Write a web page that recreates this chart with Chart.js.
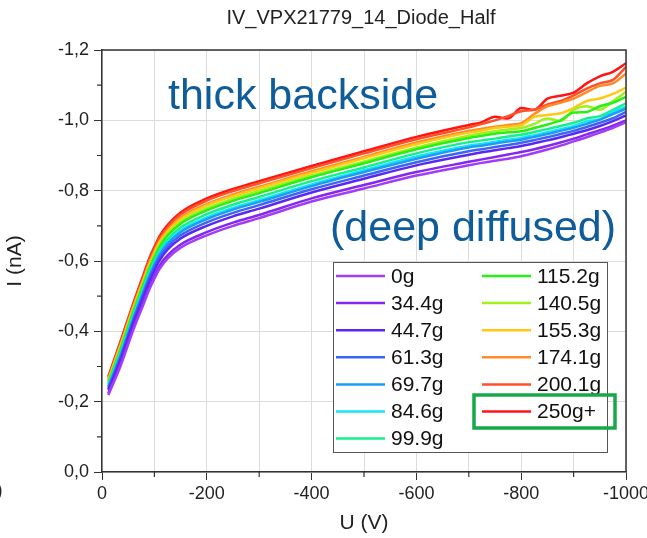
<!DOCTYPE html>
<html>
<head>
<meta charset="utf-8">
<script src="https://cdn.jsdelivr.net/npm/chart.js@4.4.1/dist/chart.umd.min.js"></script>
<style>
  html, body { margin: 0; padding: 0; background: #fff; }
  #wrap { width: 647px; height: 538px; }
</style>
</head>
<body>
<div id="wrap"><canvas id="c" width="647" height="538"></canvas></div>
<script>
// bias voltage (V), shared by every curve
const voltages = [-12, -35, -60, -80, -90, -100, -110, -125, -150, -200, -250, -300, -400, -500, -600,
  -700, -725, -750, -775, -800, -825, -850, -875, -900, -925, -950, -975, -1000];

const labels = ['0g', '34.4g', '44.7g', '61.3g', '69.7g', '84.6g', '99.9g',
  '115.2g', '140.5g', '155.3g', '174.1g', '200.1g', '250g+'];

const colors = ['#a03cfa', '#8228f0', '#5a28f5', '#3c64f5', '#1e9bf5', '#14e6f5', '#14f08c',
  '#28f014', '#a0f01e', '#ffc814', '#ff8c28', '#ff5028', '#ff1414'];

// leakage current (nA)
const i0g   = [-0.219, -0.300, -0.405, -0.480, -0.518, -0.550, -0.578, -0.607, -0.638, -0.673, -0.700, -0.722, -0.769, -0.806, -0.843, -0.872, -0.879, -0.885, -0.891, -0.898, -0.907, -0.917, -0.928, -0.940, -0.952, -0.965, -0.979, -0.995];
const i34   = [-0.224, -0.306, -0.412, -0.488, -0.526, -0.558, -0.587, -0.616, -0.647, -0.682, -0.709, -0.731, -0.778, -0.816, -0.853, -0.882, -0.889, -0.896, -0.903, -0.910, -0.918, -0.927, -0.937, -0.948, -0.960, -0.972, -0.985, -1.000];
const i44   = [-0.233, -0.318, -0.425, -0.502, -0.540, -0.573, -0.602, -0.632, -0.664, -0.700, -0.727, -0.749, -0.795, -0.834, -0.872, -0.902, -0.909, -0.915, -0.921, -0.927, -0.935, -0.943, -0.952, -0.962, -0.972, -0.984, -0.998, -1.014];
const i61   = [-0.237, -0.325, -0.432, -0.510, -0.549, -0.582, -0.610, -0.640, -0.673, -0.710, -0.737, -0.759, -0.804, -0.843, -0.881, -0.912, -0.918, -0.924, -0.930, -0.936, -0.944, -0.952, -0.961, -0.970, -0.981, -0.993, -1.006, -1.024];
const i69   = [-0.242, -0.331, -0.438, -0.517, -0.556, -0.590, -0.619, -0.649, -0.682, -0.719, -0.746, -0.768, -0.813, -0.853, -0.891, -0.923, -0.928, -0.934, -0.940, -0.945, -0.953, -0.961, -0.970, -0.979, -0.990, -1.002, -1.018, -1.033];
const i84   = [-0.244, -0.334, -0.442, -0.522, -0.561, -0.594, -0.624, -0.654, -0.687, -0.724, -0.751, -0.773, -0.818, -0.858, -0.897, -0.928, -0.933, -0.939, -0.945, -0.950, -0.958, -0.966, -0.975, -0.984, -0.997, -1.003, -1.025, -1.038];
const i99   = [-0.249, -0.340, -0.448, -0.528, -0.568, -0.601, -0.631, -0.661, -0.695, -0.733, -0.760, -0.782, -0.827, -0.866, -0.906, -0.938, -0.943, -0.948, -0.954, -0.959, -0.967, -0.975, -0.984, -0.993, -1.005, -1.012, -1.030, -1.048];
const i115  = [-0.254, -0.348, -0.457, -0.538, -0.578, -0.611, -0.641, -0.672, -0.706, -0.744, -0.771, -0.793, -0.838, -0.878, -0.918, -0.950, -0.956, -0.962, -0.966, -0.969, -0.978, -0.988, -1.000, -1.022, -1.024, -1.040, -1.050, -1.067];
const i140  = [-0.257, -0.351, -0.460, -0.542, -0.582, -0.616, -0.646, -0.676, -0.711, -0.750, -0.777, -0.799, -0.843, -0.883, -0.923, -0.956, -0.963, -0.969, -0.974, -0.978, -0.990, -1.005, -0.998, -1.030, -1.040, -1.030, -1.055, -1.081];
const i155  = [-0.261, -0.357, -0.467, -0.549, -0.589, -0.623, -0.653, -0.684, -0.719, -0.758, -0.785, -0.807, -0.851, -0.892, -0.932, -0.965, -0.971, -0.978, -0.982, -0.986, -1.010, -1.015, -1.020, -1.035, -1.055, -1.062, -1.075, -1.093];
const i174  = [-0.263, -0.360, -0.470, -0.552, -0.593, -0.627, -0.657, -0.688, -0.723, -0.762, -0.789, -0.811, -0.855, -0.896, -0.937, -0.970, -0.976, -0.982, -0.987, -0.992, -1.018, -1.040, -1.050, -1.062, -1.080, -1.098, -1.105, -1.133];
const i200  = [-0.268, -0.366, -0.476, -0.560, -0.601, -0.635, -0.665, -0.696, -0.732, -0.772, -0.799, -0.821, -0.864, -0.906, -0.946, -0.980, -0.990, -1.000, -1.012, -1.026, -1.030, -1.045, -1.055, -1.071, -1.090, -1.105, -1.115, -1.152];
const i250  = [-0.271, -0.370, -0.481, -0.565, -0.606, -0.640, -0.671, -0.702, -0.738, -0.778, -0.805, -0.827, -0.870, -0.912, -0.953, -0.987, -0.995, -1.010, -1.005, -1.035, -1.030, -1.062, -1.070, -1.079, -1.105, -1.125, -1.138, -1.162];

const currents = [i0g, i34, i44, i61, i69, i84, i99, i115, i140, i155, i174, i200, i250];

const FONT = '"Liberation Sans", Arial, sans-serif';
const isMajorY = v => Math.abs(Math.round(v * 10)) % 2 === 0;
const isMajorX = v => Math.abs(Math.round(v / 100)) % 2 === 0;

const decorations = {
  id: 'decorations',
  afterDraw(chart) {
    const ctx = chart.ctx;
    const a = chart.chartArea;
    const xs = chart.scales.x, ys = chart.scales.y;
    ctx.save();

    // box frame: top and right
    ctx.strokeStyle = '#333';
    ctx.lineWidth = 1.5;
    ctx.beginPath();
    ctx.moveTo(a.left, a.top);
    ctx.lineTo(a.right, a.top);
    ctx.lineTo(a.right, a.bottom);
    ctx.stroke();

    // short minor ticks
    ctx.lineWidth = 1.2;
    ctx.beginPath();
    ys.ticks.forEach(t => {
      if (isMajorY(t.value)) return;
      const y = ys.getPixelForValue(t.value);
      ctx.moveTo(a.left - 5, y); ctx.lineTo(a.left, y);
    });
    xs.ticks.forEach(t => {
      if (isMajorX(t.value)) return;
      const x = xs.getPixelForValue(t.value);
      ctx.moveTo(x, a.bottom); ctx.lineTo(x, a.bottom + 5);
    });
    ctx.stroke();

    // title
    ctx.fillStyle = '#222';
    ctx.font = '20px ' + FONT;
    ctx.textAlign = 'center';
    ctx.textBaseline = 'alphabetic';
    ctx.fillText('IV_VPX21779_14_Diode_Half', 361, 24);

    // clipped bracket at the left edge of the slide
    ctx.textAlign = 'left';
    ctx.fillText(')', -4, 497);

    // annotations
    ctx.fillStyle = '#0f5c9b';
    ctx.font = '43px ' + FONT;
    ctx.fillText('thick backside', 168, 109);
    ctx.fillText('(deep diffused)', 330, 241);

    // legend box
    const lx = 333, ly = 262, lw = 274, lh = 190;
    ctx.fillStyle = '#fff';
    ctx.fillRect(lx, ly, lw, lh);
    ctx.strokeStyle = '#555';
    ctx.lineWidth = 1;
    ctx.strokeRect(lx + 0.5, ly + 0.5, lw, lh);

    ctx.font = '21px ' + FONT;
    ctx.textBaseline = 'middle';
    chart.data.datasets.forEach((ds, i) => {
      const col = i < 7 ? 0 : 1;
      const row = i < 7 ? i : i - 7;
      const x0 = col === 0 ? 336 : 482;
      const y = 276 + row * 27.1;
      ctx.strokeStyle = ds.borderColor;
      ctx.lineWidth = 2.5;
      ctx.beginPath();
      ctx.moveTo(x0, y); ctx.lineTo(x0 + 49, y);
      ctx.stroke();
      ctx.fillStyle = '#111';
      ctx.fillText(ds.label, x0 + 55, y + 1);
    });

    // highlight around 250g+
    ctx.strokeStyle = '#17a84b';
    ctx.lineWidth = 3.5;
    ctx.strokeRect(474, 395, 141, 33);

    ctx.restore();
  }
};

new Chart(document.getElementById('c'), {
  type: 'line',
  data: {
    datasets: currents.map((arr, i) => ({
      label: labels[i],
      data: arr.map((v, k) => ({ x: voltages[k], y: v })),
      borderColor: colors[i],
      backgroundColor: colors[i],
      borderWidth: 2.5,
      pointRadius: 0,
      cubicInterpolationMode: 'monotone',
      fill: false
    }))
  },
  options: {
    responsive: false,
    animation: false,
    devicePixelRatio: 1,
    layout: { padding: { top: 50, right: 21, left: 0, bottom: 0 } },
    plugins: {
      legend: { display: false },
      title: { display: false },
      tooltip: { enabled: false }
    },
    scales: {
      x: {
        type: 'linear',
        min: -1000,
        max: 0,
        reverse: true,
        afterFit(s) { s.height = 66; s.paddingLeft = 0; s.paddingRight = 0; },
        ticks: {
          stepSize: 100,
          autoSkip: false,
          maxRotation: 0,
          padding: 3,
          color: '#222',
          font: { family: FONT, size: 18 },
          callback: v => isMajorX(v) ? String(Math.round(v)) : ''
        },
        grid: {
          color: '#dcdcdc',
          lineWidth: 1,
          tickLength: 8,
          tickColor: c => (c.tick && isMajorX(c.tick.value)) ? '#333' : 'rgba(0,0,0,0)'
        },
        border: { color: '#333', width: 1.5 },
        title: {
          display: true,
          text: 'U (V)',
          color: '#222',
          font: { family: FONT, size: 21 },
          padding: { top: 0, bottom: 2 }
        }
      },
      y: {
        type: 'linear',
        min: -1.2,
        max: 0,
        reverse: true,
        afterFit(s) { s.width = 102; s.paddingTop = 0; s.paddingBottom = 0; },
        ticks: {
          stepSize: 0.1,
          autoSkip: false,
          padding: 5,
          color: '#222',
          font: { family: FONT, size: 18 },
          callback: v => isMajorY(v) ? v.toFixed(1).replace('.', ',').replace('-0,0', '0,0') : ''
        },
        grid: {
          color: c => (c.tick && isMajorY(c.tick.value)) ? '#dcdcdc' : 'rgba(0,0,0,0)',
          lineWidth: 1,
          tickLength: 8,
          tickColor: c => (c.tick && isMajorY(c.tick.value)) ? '#333' : 'rgba(0,0,0,0)'
        },
        border: { color: '#333', width: 1.5 },
        title: {
          display: true,
          text: 'I (nA)',
          color: '#222',
          font: { family: FONT, size: 21 },
          padding: { top: 3, bottom: 0 }
        }
      }
    }
  },
  plugins: [decorations]
});
</script>
</body>
</html>
